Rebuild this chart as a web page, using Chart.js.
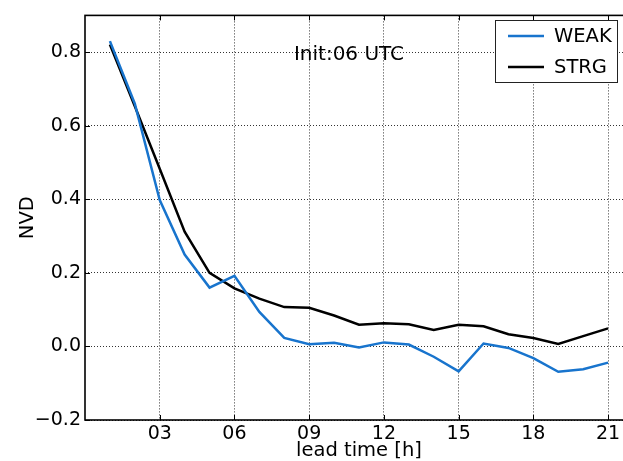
<!DOCTYPE html>
<html><head><meta charset="utf-8">
<script src="https://cdn.jsdelivr.net/npm/chart.js@4/dist/chart.umd.min.js"></script>
<style>
html,body{margin:0;padding:0;overflow:hidden;background:#fff;width:623px;height:461px;}
#wrap{position:absolute;left:0;top:0;width:660px;height:461px;}
</style></head><body>
<div id="wrap"><canvas id="c" width="660" height="461"></canvas></div>
<script>
const leadHours = [1,2,3,4,5,6,7,8,9,10,11,12,13,14,15,16,17,18,19,20,21];
const weakValues = [0.83,0.66,0.398,0.25,0.16,0.192,0.094,0.023,0.006,0.010,-0.003,0.011,0.005,-0.028,-0.068,0.008,-0.004,-0.032,-0.069,-0.062,-0.044];
const strgValues = [0.821,0.653,0.483,0.312,0.20,0.158,0.13,0.107,0.105,0.084,0.059,0.063,0.060,0.045,0.059,0.055,0.033,0.023,0.007,0.028,0.049];
const seriesLabels = ['WEAK','STRG'];
const seriesColors = ['#1874cd','#000000'];
const xTickHours = [3,6,9,12,15,18,21];
const yTickValues = [-0.2,0,0.2,0.4,0.6,0.8];
const xTitle = 'lead time [h]';
const yTitle = 'NVD';
const annotationText = 'Init:06 UTC';

const FONT = "'DejaVu Sans', sans-serif";

const frameAndTicks = {
  id: 'frameAndTicks',
  afterDatasetsDraw(chart) {
    const ctx = chart.ctx, a = chart.chartArea;
    const xs = chart.scales.x, ys = chart.scales.y;
    ctx.save();
    ctx.strokeStyle = '#000';
    ctx.lineWidth = 1;
    const L = 5;
    ctx.beginPath();
    xTickHours.forEach(h => {
      const px = Math.round(xs.getPixelForValue(h)) + 0.5;
      ctx.moveTo(px, a.bottom); ctx.lineTo(px, a.bottom - L);
      ctx.moveTo(px, a.top); ctx.lineTo(px, a.top + L);
    });
    yTickValues.forEach(v => {
      const py = Math.round(ys.getPixelForValue(v)) + 0.5;
      ctx.moveTo(a.left, py); ctx.lineTo(a.left + L, py);
      ctx.moveTo(a.right, py); ctx.lineTo(a.right - L, py);
    });
    ctx.stroke();
    ctx.lineWidth = 1.6;
    ctx.strokeRect(a.left, a.top, a.right - a.left, a.bottom - a.top);
    // annotation
    ctx.fillStyle = '#000';
    ctx.font = '20px ' + FONT;
    ctx.textAlign = 'center';
    ctx.textBaseline = 'middle';
    ctx.fillText(annotationText, 349, 55);
    // legend
    const bx = 495, by = 20, bw = 122, bh = 62;
    ctx.fillStyle = '#fff';
    ctx.fillRect(bx, by, bw, bh);
    ctx.strokeStyle = '#222';
    ctx.lineWidth = 1;
    ctx.strokeRect(bx + 0.5, by + 0.5, bw, bh);
    chart.data.datasets.forEach((ds, i) => {
      const ly = 36 + i * 31;
      ctx.strokeStyle = ds.borderColor;
      ctx.lineWidth = 2.5;
      ctx.beginPath(); ctx.moveTo(508, ly); ctx.lineTo(544, ly); ctx.stroke();
      ctx.fillStyle = '#000';
      ctx.textAlign = 'left';
      ctx.textBaseline = 'middle';
      ctx.font = '19.5px ' + FONT;
      ctx.fillText(ds.label, 554, ly + 1);
    });
    ctx.restore();
  }
};

new Chart(document.getElementById('c'), {
  type: 'line',
  data: {
    labels: leadHours,
    datasets: [
      { label: seriesLabels[0], data: leadHours.map((h,i)=>({x:h,y:weakValues[i]})), borderColor: seriesColors[0], borderWidth: 2.5, pointRadius: 0, tension: 0, fill: false },
      { label: seriesLabels[1], data: leadHours.map((h,i)=>({x:h,y:strgValues[i]})), borderColor: seriesColors[1], borderWidth: 2.5, pointRadius: 0, tension: 0, fill: false }
    ]
  },
  options: {
    responsive: false,
    animation: false,
    devicePixelRatio: 1,
    layout: { padding: { left: 0, top: 9, right: 27, bottom: 0 } },
    plugins: { legend: { display: false }, tooltip: { enabled: false } },
    scales: {
      x: {
        type: 'linear', min: 0, max: 22,
        afterBuildTicks(s) { s.ticks = xTickHours.map(v => ({ value: v })); },
        afterFit(s) { s.height = 41; },
        grid: { color: '#333', lineWidth: 1, drawTicks: false },
        border: { display: false, dash: [1,2] },
        ticks: { color: '#000', font: { family: FONT, size: 19 }, padding: 3, maxRotation: 0,
          callback: v => String(v).padStart(2, '0') },
        title: { display: true, text: xTitle, color: '#000', font: { family: FONT, size: 19.5, lineHeight: 1.0 }, padding: { top: 0, bottom: 0 } }
      },
      y: {
        type: 'linear', min: -0.2, max: 0.9,
        afterBuildTicks(s) { s.ticks = yTickValues.map(v => ({ value: v })); },
        afterFit(s) { s.width = 85; },
        grid: { color: '#333', lineWidth: 1, drawTicks: false },
        border: { display: false, dash: [1,2] },
        ticks: { color: '#000', font: { family: FONT, size: 19 }, padding: 4,
          callback: v => (v < 0 ? '\u2212' : '') + Math.abs(v).toFixed(1) },
        title: { display: true, text: yTitle, color: '#000', font: { family: FONT, size: 19.5, lineHeight: 1.0 }, padding: { top: 18, bottom: 0 } }
      }
    }
  },
  plugins: [frameAndTicks]
});
</script>
</body></html>
